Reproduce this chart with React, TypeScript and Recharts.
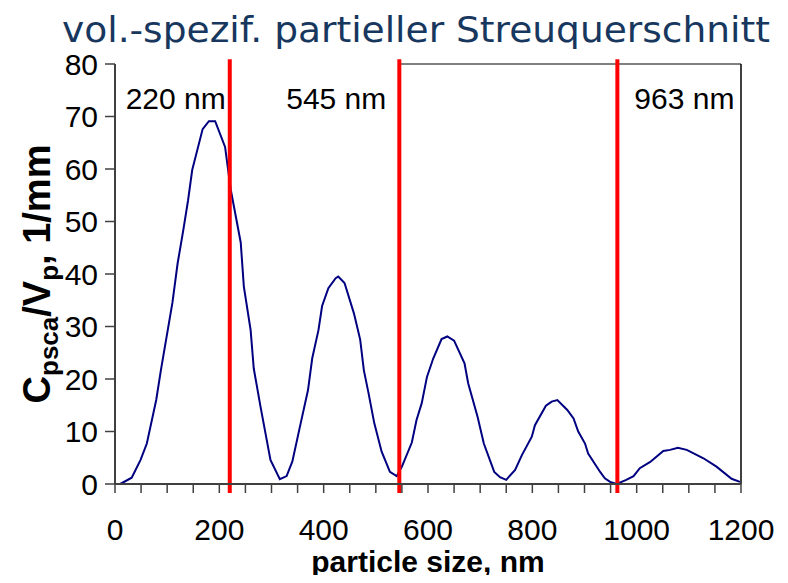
import { LineChart, Line, XAxis, YAxis, ReferenceLine } from 'recharts';

// particle size (nm) and volume-specific partial scattering cross section (1/mm)
const sizes = [
  10, 32, 49, 61, 79, 88, 110, 120, 131, 140, 148, 168, 180, 192, 211, 222, 241, 247, 260, 266, 279,
  298, 316, 329, 340, 356, 370, 378, 390, 397, 409, 423, 428, 440, 458, 470, 477, 486, 497, 511,
  527, 540, 550, 569, 578, 588, 598, 610, 626, 637, 650, 670, 677, 695, 707, 727, 738, 750, 767,
  780, 799, 805, 826, 837, 848, 867, 879, 888, 901, 907, 930, 939, 949, 962, 980, 994, 1006, 1026,
  1051, 1064, 1079, 1096, 1128, 1153, 1182, 1198,
];
const cpsca = [
  0, 1.2, 4.6, 7.7, 16, 21.7, 34.5, 42, 48.4, 54, 59.8, 67.6, 69.1, 69.1, 64.2, 56, 46, 37.6, 29.3, 22,
  14.7, 4.6, 0.9, 1.5, 4.3, 11.6, 17.9, 23.9, 29.3, 33.9, 37.3, 39.2, 39.5, 38.3, 32.5, 27.5, 21.7,
  17.3, 11.6, 6.2, 2.3, 1.5, 3.3, 7.9, 12.2, 15.4, 20.4, 23.9, 27.6, 28.1, 27.3, 23, 19.2, 12.8,
  7.7, 2.3, 1.3, 0.8, 2.7, 5.5, 9, 11.2, 14.9, 15.7, 16, 14.1, 12.5, 10, 7.7, 5.8, 2.3, 1.1, 0.4,
  0, 0.8, 1.5, 3, 4.2, 6.3, 6.5, 6.9, 6.5, 4.9, 3.3, 1, 0.4,
];

const markers = [220, 545, 963];
const markerLabels = ['220 nm', '545 nm', '963 nm'];

const xTicks = [
  0, 50, 100, 150, 200, 250, 300, 350, 400, 450, 500, 550, 600, 650, 700, 750, 800, 850, 900, 950,
  1000, 1050, 1100, 1150, 1200,
];
const yTicks = [0, 10, 20, 30, 40, 50, 60, 70, 80];

const data = sizes.map((s, i) => ({ size: s, value: cpsca[i] }));

const font = '"Liberation Sans", Arial, sans-serif';

// where each marker caption sits relative to its red line
const labelShift: Record<number, { dx: number; anchor: 'start' | 'end' }> = {
  220: { dx: -4, anchor: 'end' },
  545: { dx: -13, anchor: 'end' },
  963: { dx: 17, anchor: 'start' },
};

function markerLabel(value: number, text: string) {
  return (props: any) => {
    const vb = props.viewBox || {};
    const s = labelShift[value];
    return (
      <text x={vb.x + s.dx} y={109} textAnchor={s.anchor} fontSize={30} fontFamily={font} fill="#000">
        {text}
      </text>
    );
  };
}

function YLabel(props: any) {
  const vb = props.viewBox || { x: 0, y: 64, height: 420 };
  const x = 50;
  const y = vb.y + vb.height / 2;
  return (
    <text
      x={x}
      y={y}
      textAnchor="middle"
      fontFamily={font}
      fontWeight="bold"
      fontSize={38}
      fill="#000"
      transform={`rotate(-90, ${x}, ${y})`}
    >
      <tspan>C</tspan>
      <tspan fontSize={26} dy={8}>psca</tspan>
      <tspan dy={-8}>/V</tspan>
      <tspan fontSize={26} dy={8}>p</tspan>
      <tspan dy={-8}>, 1/mm</tspan>
    </text>
  );
}

function XLabel(props: any) {
  const vb = props.viewBox || { x: 115, width: 626 };
  return (
    <text x={vb.x + vb.width / 2} y={572} textAnchor="middle" fontFamily={font} fontWeight="bold" fontSize={30} fill="#000">
      particle size, nm
    </text>
  );
}

export default function App() {
  return (
    <div style={{ position: 'relative', width: 788, height: 583, margin: -8, background: '#fff' }}>
      <svg width={788} height={56} style={{ position: 'absolute', left: 0, top: 0 }}>
        <text
          x={62}
          y={42}
          fontFamily='"DejaVu Sans", Verdana, sans-serif'
          fontSize={35}
          fill="#17375E"
          textLength={708}
          lengthAdjust="spacingAndGlyphs"
        >
          vol.-spezif. partieller Streuquerschnitt
        </text>
      </svg>
      <div style={{ position: 'absolute', left: 0, top: 0 }}>
        <LineChart width={788} height={583} data={data} margin={{ top: 64, right: 47, bottom: 0, left: 0 }}>
          <XAxis
            dataKey="size"
            type="number"
            domain={[0, 1200]}
            ticks={xTicks}
            interval={0}
            tickFormatter={(v: number) => (v % 200 === 0 ? String(v) : '')}
            height={99}
            tickSize={9}
            tickMargin={26}
            tick={{ fontSize: 30, fontFamily: font, fill: '#000' }}
            axisLine={{ stroke: '#404040', strokeWidth: 2 }}
            tickLine={{ stroke: '#404040', strokeWidth: 1.5 }}
            label={<XLabel />}
          />
          <YAxis
            type="number"
            domain={[0, 80]}
            ticks={yTicks}
            interval={0}
            width={115}
            tickSize={10}
            tickMargin={7}
            tick={{ fontSize: 30, fontFamily: font, fill: '#000' }}
            axisLine={{ stroke: '#404040', strokeWidth: 2 }}
            tickLine={{ stroke: '#404040', strokeWidth: 1.5 }}
            label={<YLabel />}
          />
          {/* plot frame: right edge and the visible part of the top edge */}
          <ReferenceLine
            segment={[
              { x: 545, y: 80 },
              { x: 1200, y: 80 },
            ]}
            stroke="#000"
            strokeWidth={1}
          />
          <ReferenceLine x={1200} stroke="#000" strokeWidth={1.5} />
          <Line
            type="linear"
            dataKey="value"
            stroke="#000080"
            strokeWidth={2}
            dot={false}
            isAnimationActive={false}
          />
          {markers.map((m, i) => (
            <ReferenceLine
              key={m}
              segment={[
                { x: m, y: -1.7 },
                { x: m, y: 80.9 },
              ]}
              ifOverflow="visible"
              stroke="#FF0000"
              strokeWidth={4}
              label={{ content: markerLabel(m, markerLabels[i]) }}
            />
          ))}
        </LineChart>
      </div>
    </div>
  );
}
